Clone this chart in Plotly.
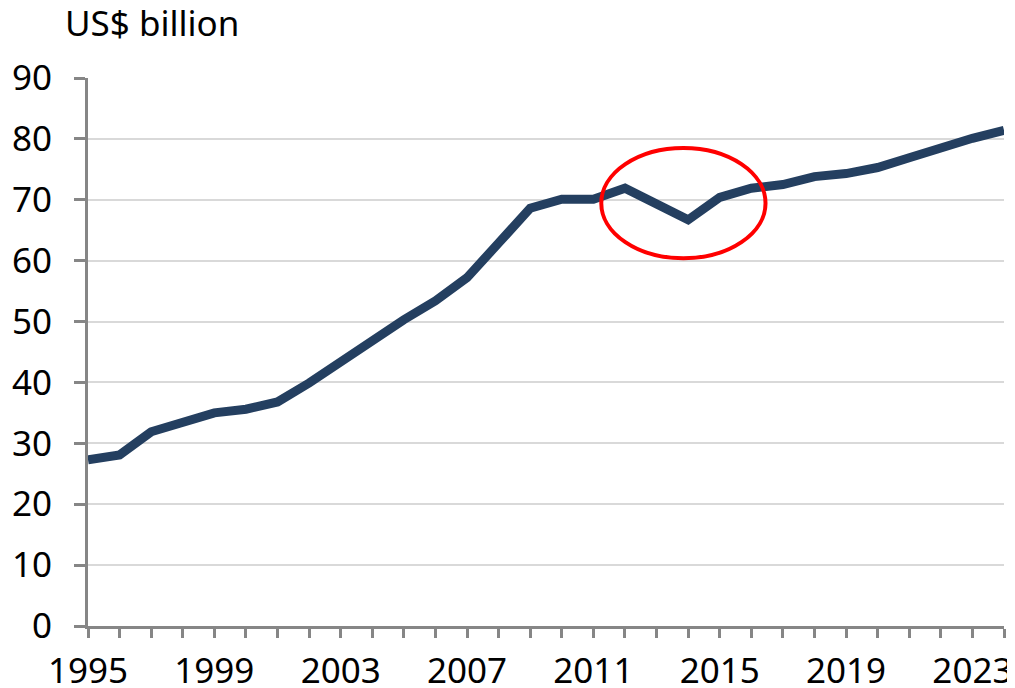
import plotly.graph_objects as go

years = list(range(1995, 2025))
values = [27.3, 28.1, 31.9, 33.3, 35.0, 35.6, 36.8, 39.9, 43.5, 47.1,
          50.3, 53.4, 57.2, 62.9, 68.6, 70.1, 70.1, 71.9, 69.5, 66.7,
          70.4, 71.9, 72.5, 73.8, 74.3, 75.3, 76.9, 78.6, 80.1, 81.4]
x_tick_labels = [str(y) if (y - 1995) % 4 == 0 else "" for y in years]
y_ticks = list(range(0, 100, 10))
unit_label = "US$ billion"
highlight_x = [2011.25, 2016.45]
highlight_y = [60.4, 78.5]

FONT = "Noto Sans"
FS = 35

fig = go.Figure()
fig.add_trace(go.Scatter(
    x=years, y=values, mode="lines",
    line=dict(color="#243F60", width=9, shape="linear"),
    hoverinfo="x+y", showlegend=False,
))

fig.add_shape(type="circle", xref="x", yref="y",
              x0=highlight_x[0], x1=highlight_x[1],
              y0=highlight_y[0], y1=highlight_y[1],
              line=dict(color="#FF0000", width=4))

fig.add_annotation(text=unit_label, xref="paper", yref="paper",
                   x=-0.027, y=1.102, xanchor="left", yanchor="middle",
                   showarrow=False, font=dict(family=FONT, size=FS, color="#000000"))

# page has an 8px body margin, so the figure is sized to fit inside the window
fig.update_layout(
    width=1007, height=680,
    margin=dict(l=80, r=11, t=70, b=62, pad=0, autoexpand=False),
    paper_bgcolor="white", plot_bgcolor="white",
    font=dict(family=FONT, size=FS, color="#000000"),
    xaxis=dict(
        range=[1995, 2024], tickmode="array", tickvals=years, ticktext=x_tick_labels,
        showgrid=False, zeroline=False, automargin=False,
        showline=True, linecolor="#868686", linewidth=3,
        ticks="outside", ticklen=9, tickwidth=3, tickcolor="#868686",
        tickfont=dict(family=FONT, size=FS), ticklabelstandoff=3, fixedrange=True,
    ),
    yaxis=dict(
        range=[0, 90], tickmode="array", tickvals=y_ticks,
        showgrid=True, gridcolor="#D9D9D9", gridwidth=2, zeroline=False, automargin=False,
        showline=True, linecolor="#868686", linewidth=3,
        ticks="outside", ticklen=11, tickwidth=3, tickcolor="#868686",
        tickfont=dict(family=FONT, size=FS), ticklabelstandoff=15, fixedrange=True,
    ),
)

fig.write_html("out.html")
